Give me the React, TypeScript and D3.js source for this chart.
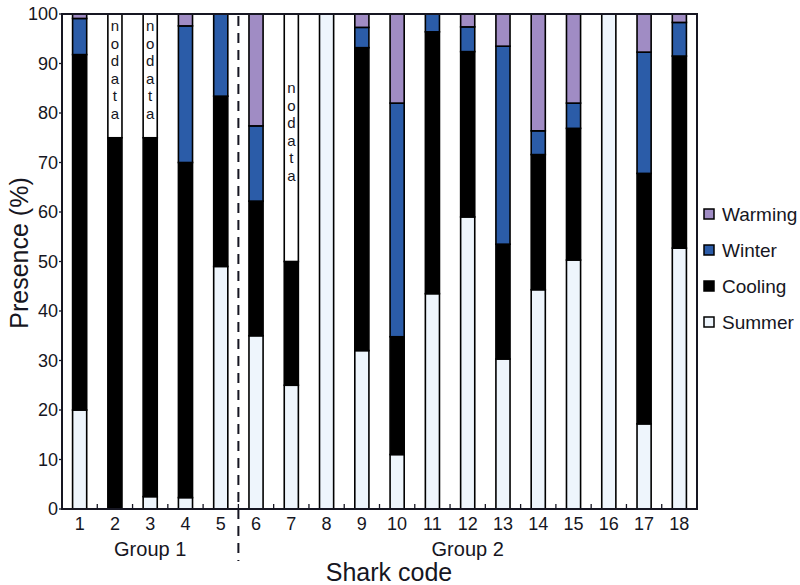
import React from "react";
import * as d3 from "d3";

const sharks = ["1", "2", "3", "4", "5", "6", "7", "8", "9", "10", "11", "12", "13", "14", "15", "16", "17", "18"];
const summer = [20, 0, 2.5, 2.3, 49, 35, 25, 100, 32, 11, 43.5, 59, 30.3, 44.3, 50.3, 100, 17.2, 52.7];
const cooling = [71.8, 75, 72.5, 67.7, 34.4, 27.2, 25, 0, 61.2, 23.8, 52.9, 33.4, 23.2, 27.3, 26.6, 0, 50.6, 38.8];
const winter = [7.3, 0, 0, 27.6, 16.6, 15.2, 0, 0, 4.1, 47.2, 3.6, 5, 40, 4.8, 5.1, 0, 24.5, 6.8];
const warming = [0.9, 0, 0, 2.4, 0, 22.6, 0, 0, 2.7, 18, 0, 2.6, 6.5, 23.6, 18, 0, 7.7, 1.7];
const noData = [0, 25, 25, 0, 0, 0, 50, 0, 0, 0, 0, 0, 0, 0, 0, 0, 0, 0];
const yTicks = [0, 10, 20, 30, 40, 50, 60, 70, 80, 90, 100];
const groups = [
  { label: "Group 1", from: 0, to: 4 },
  { label: "Group 2", from: 5, to: 17 },
];

const keys = ["summer", "cooling", "winter", "warming", "noData"];
const colors: Record<string, string> = {
  summer: "#eef5fc",
  cooling: "#000000",
  winter: "#2b5ca8",
  warming: "#a08cc4",
  noData: "#ffffff",
};
const legend = [
  { key: "warming", label: "Warming" },
  { key: "winter", label: "Winter" },
  { key: "cooling", label: "Cooling" },
  { key: "summer", label: "Summer" },
];

const W = 800;
const H = 585;
const left = 62;
const right = 697;
const top = 14;
const bottom = 509;
const font = "'Liberation Sans', Arial, sans-serif";
const ink = "#161622";

export default function App() {
  const rows = sharks.map((s, i) => ({
    shark: s,
    summer: summer[i],
    cooling: cooling[i],
    winter: winter[i],
    warming: warming[i],
    noData: noData[i],
  }));
  const stacked = d3.stack<any>().keys(keys)(rows);

  const x = d3.scaleBand().domain(sharks).range([left, right]).paddingInner(0.6).paddingOuter(0.3);
  const y = d3.scaleLinear().domain([0, 100]).range([bottom, top]);
  const step = x.step();
  const edge = (i: number) => (x(sharks[i]) as number) - (x.step() - x.bandwidth()) / 2;

  return (
    <svg width={W} height={H} style={{ position: "absolute", left: 0, top: 0 }}>
      <rect width={W} height={H} fill="#fff" />
      {stacked.map((layer) => (
        <g key={layer.key}>
          {layer.map((d, i) =>
            d[1] - d[0] > 0 ? (
              <rect
                key={i}
                x={x(sharks[i])}
                y={y(d[1])}
                width={x.bandwidth()}
                height={y(d[0]) - y(d[1])}
                fill={colors[layer.key]}
                stroke="#000"
                strokeWidth={1.6}
              />
            ) : null
          )}
        </g>
      ))}
      {/* no data labels, one letter per line */}
      {rows.map((r, i) => {
        if (!r.noData) return null;
        const mid = (y(100) + y(100 - r.noData)) / 2 - 6;
        const letters = "nodata".split("");
        const cx = (x(r.shark) as number) + x.bandwidth() / 2;
        return (
          <g key={"nd" + i} fontFamily={font} fontSize={15} fill={ink} textAnchor="middle">
            {letters.map((c, k) => (
              <text key={k} x={cx} y={mid + (k - 2.5) * 17.5} dy="0.35em">
                {c}
              </text>
            ))}
          </g>
        );
      })}
      {/* frame */}
      <rect x={left} y={top} width={right - left} height={bottom - top} fill="none" stroke={ink} strokeWidth={2} />
      {/* bottom minor ticks */}
      {sharks.slice(1).map((s, i) => {
        const bx = edge(i + 1);
        return <line key={"mt" + s} x1={bx} x2={bx} y1={bottom} y2={bottom - 5} stroke={ink} strokeWidth={1.3} />;
      })}
      {/* y ticks */}
      {yTicks.map((t) => (
        <g key={"yt" + t}>
          <line x1={left - 3} x2={left} y1={y(t)} y2={y(t)} stroke={ink} strokeWidth={1.3} />
          <text x={left - 4} y={y(t)} dy="0.36em" textAnchor="end" fontFamily={font} fontSize={18} fill={ink}>
            {t}
          </text>
        </g>
      ))}
      {/* x labels */}
      {sharks.map((s) => (
        <text
          key={"xl" + s}
          x={(x(s) as number) + x.bandwidth() / 2}
          y={524}
          dy="0.36em"
          textAnchor="middle"
          fontFamily={font}
          fontSize={18}
          fill={ink}
        >
          {s}
        </text>
      ))}
      {/* group separator */}
      <line
        x1={edge(5)}
        x2={edge(5)}
        y1={top + 2}
        y2={561}
        stroke={ink}
        strokeWidth={2}
        strokeDasharray="10,7"
      />
      {groups.map((g) => (
        <text
          key={g.label}
          x={(edge(g.from) + edge(g.to) + step) / 2}
          y={549}
          dy="0.36em"
          textAnchor="middle"
          fontFamily={font}
          fontSize={20}
          fill={ink}
        >
          {g.label}
        </text>
      ))}
      <text x={389} y={572} dy="0.36em" textAnchor="middle" fontFamily={font} fontSize={25} fill={ink}>
        Shark code
      </text>
      <text
        transform={`translate(19,253) rotate(-90)`}
        dy="0.36em"
        textAnchor="middle"
        fontFamily={font}
        fontSize={25}
        fill={ink}
      >
        Presence (%)
      </text>
      {/* legend */}
      {legend.map((l, i) => {
        const ly = 214 + i * 36;
        return (
          <g key={l.key}>
            <rect x={704} y={ly - 5} width={10} height={10} fill={colors[l.key]} stroke="#000" strokeWidth={1.5} />
            <text x={722} y={ly} dy="0.36em" fontFamily={font} fontSize={19} fill={ink}>
              {l.label}
            </text>
          </g>
        );
      })}
    </svg>
  );
}
